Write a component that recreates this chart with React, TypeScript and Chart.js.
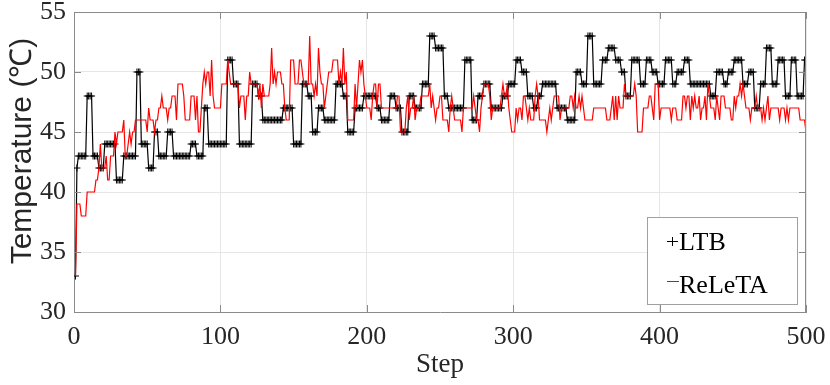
import { useEffect, useRef } from 'react';
import { Chart, registerables } from 'chart.js';

Chart.register(...registerables);

// x categories: simulation steps
const STEPS: number[] = Array.from({ length: 500 }, (_, i) => i + 1);

const X_TICKS = [0, 100, 200, 300, 400, 500];
const Y_TICKS = [30, 35, 40, 45, 50, 55];

const X_TITLE = 'Step';
const Y_TITLE = 'Temperature (℃)';
const SERIES_NAMES = ['LTB', 'ReLeTA'];

// LTB temperatures (step 1..500)
const LTB: number[] = [
  33, 42, 43, 43, 43, 43, 43, 43, 48, 48,
  48, 48, 43, 43, 43, 43, 42, 42, 42, 42,
  44, 44, 44, 44, 44, 44, 44, 44, 41, 41,
  41, 41, 41, 43, 43, 43, 43, 43, 43, 43,
  43, 43, 50, 50, 50, 44, 44, 44, 44, 44,
  42, 42, 42, 42, 45, 45, 45, 43, 43, 43,
  43, 43, 43, 45, 45, 45, 45, 43, 43, 43,
  43, 43, 43, 43, 43, 43, 43, 43, 43, 44,
  44, 44, 44, 43, 43, 43, 43, 43, 47, 47,
  47, 44, 44, 44, 44, 44, 44, 44, 44, 44,
  44, 44, 44, 44, 51, 51, 51, 51, 49, 49,
  49, 49, 44, 44, 44, 44, 44, 44, 44, 44,
  44, 49, 49, 49, 49, 48, 48, 48, 46, 46,
  46, 46, 46, 46, 46, 46, 46, 46, 46, 46,
  46, 46, 47, 47, 47, 47, 47, 47, 47, 44,
  44, 44, 44, 44, 44, 49, 49, 49, 49, 48,
  48, 48, 45, 45, 45, 45, 47, 47, 47, 47,
  46, 46, 46, 46, 46, 46, 46, 46, 49, 49,
  49, 49, 49, 48, 48, 48, 45, 45, 45, 45,
  45, 47, 47, 47, 47, 47, 47, 48, 48, 48,
  48, 48, 48, 48, 48, 48, 47, 47, 47, 46,
  46, 46, 46, 46, 46, 48, 48, 48, 48, 47,
  47, 47, 47, 45, 45, 45, 45, 45, 48, 48,
  48, 48, 47, 47, 47, 47, 47, 49, 49, 49,
  49, 49, 53, 53, 53, 53, 52, 52, 52, 52,
  52, 52, 48, 48, 48, 47, 47, 47, 47, 47,
  47, 47, 47, 47, 47, 47, 51, 51, 51, 51,
  51, 46, 46, 46, 46, 48, 48, 48, 48, 49,
  49, 49, 49, 49, 47, 47, 47, 47, 47, 47,
  47, 47, 48, 48, 48, 48, 49, 49, 49, 49,
  49, 51, 51, 51, 51, 50, 50, 50, 50, 48,
  48, 48, 48, 47, 47, 47, 48, 48, 48, 49,
  49, 49, 49, 49, 49, 49, 49, 49, 49, 47,
  47, 47, 47, 47, 47, 47, 46, 46, 46, 46,
  46, 46, 50, 50, 50, 50, 49, 49, 49, 49,
  53, 53, 53, 53, 49, 49, 49, 49, 49, 49,
  51, 51, 51, 51, 52, 52, 52, 52, 52, 51,
  51, 51, 51, 50, 50, 50, 48, 48, 48, 48,
  51, 51, 51, 51, 51, 51, 49, 49, 49, 49,
  51, 51, 51, 51, 50, 50, 50, 50, 49, 49,
  49, 49, 49, 51, 51, 51, 51, 51, 49, 49,
  49, 50, 50, 50, 50, 50, 51, 51, 51, 51,
  49, 49, 49, 49, 49, 49, 49, 49, 49, 49,
  49, 49, 49, 49, 48, 48, 48, 48, 50, 50,
  50, 50, 50, 49, 49, 49, 50, 50, 50, 50,
  51, 51, 51, 51, 51, 51, 49, 49, 49, 49,
  50, 50, 50, 50, 47, 47, 47, 47, 49, 49,
  49, 49, 52, 52, 52, 52, 49, 49, 49, 49,
  51, 51, 51, 51, 51, 48, 48, 48, 48, 51,
  51, 51, 51, 48, 48, 48, 48, 48, 51, 51,
];

// ReLeTA temperatures (step 1..500)
const RELETA: number[] = [
  33, 39, 39, 39, 38, 38, 38, 38, 40, 40,
  40, 40, 40, 40, 41, 41, 42, 44, 42, 42,
  42, 43, 41, 41, 43, 43, 43, 45, 44, 45,
  45, 45, 45, 46, 43, 43, 44, 45, 44, 45,
  45, 46, 46, 46, 46, 46, 46, 46, 46, 45,
  47, 46, 46, 46, 45, 46, 46, 47, 47, 48,
  47, 47, 47, 46, 47, 47, 48, 48, 48, 46,
  49, 49, 49, 49, 48, 46, 46, 46, 46, 48,
  48, 48, 46, 48, 45, 45, 47, 49, 50, 49,
  50, 50, 48, 51, 48, 47, 47, 47, 47, 47,
  49, 49, 49, 49, 51, 50, 49, 49, 49, 49,
  49, 49, 47, 48, 48, 48, 46, 48, 48, 50,
  49, 49, 49, 49, 49, 48, 49, 47, 49, 48,
  48, 48, 48, 49, 52, 49, 50, 49, 50, 50,
  50, 49, 49, 47, 46, 46, 46, 51, 51, 51,
  49, 49, 49, 51, 51, 50, 49, 49, 49, 49,
  53, 49, 49, 48, 49, 48, 52, 50, 49, 49,
  47, 48, 49, 50, 50, 50, 51, 51, 51, 51,
  49, 50, 49, 52, 49, 50, 46, 46, 46, 46,
  46, 49, 47, 49, 51, 50, 51, 49, 48, 47,
  47, 47, 46, 48, 49, 49, 47, 49, 49, 47,
  47, 47, 47, 47, 47, 47, 47, 47, 47, 47,
  48, 48, 45, 45, 45, 45, 47, 48, 46, 47,
  47, 48, 46, 47, 47, 47, 48, 48, 48, 48,
  48, 48, 49, 47, 48, 47, 46, 47, 47, 48,
  48, 46, 46, 46, 46, 45, 47, 48, 47, 46,
  46, 46, 46, 46, 45, 47, 47, 47, 47, 47,
  47, 47, 48, 47, 46, 46, 45, 47, 48, 49,
  49, 49, 49, 48, 46, 47, 47, 47, 47, 47,
  47, 48, 49, 48, 48, 49, 47, 46, 45, 45,
  45, 47, 46, 47, 47, 46, 48, 48, 47, 46,
  47, 46, 46, 46, 48, 49, 48, 46, 46, 46,
  46, 46, 45, 46, 47, 46, 47, 48, 48, 48,
  48, 46, 47, 47, 47, 47, 47, 47, 48, 48,
  47, 48, 47, 47, 48, 47, 48, 47, 46, 46,
  46, 46, 46, 46, 47, 47, 47, 47, 47, 47,
  47, 47, 47, 46, 46, 46, 47, 48, 46, 48,
  46, 48, 47, 47, 47, 49, 48, 48, 48, 48,
  48, 48, 49, 48, 45, 45, 45, 45, 47, 47,
  47, 47, 48, 48, 47, 46, 49, 49, 49, 46,
  47, 47, 47, 47, 47, 47, 47, 46, 47, 47,
  47, 46, 46, 46, 46, 48, 48, 47, 48, 48,
  46, 48, 47, 48, 47, 47, 48, 46, 47, 47,
  48, 46, 49, 48, 47, 47, 47, 46, 48, 47,
  46, 48, 48, 48, 47, 47, 47, 47, 46, 46,
  48, 47, 48, 48, 49, 48, 49, 48, 47, 47,
  47, 46, 47, 47, 47, 48, 47, 47, 47, 46,
  47, 46, 47, 48, 46, 47, 47, 47, 47, 47,
  47, 46, 47, 47, 47, 46, 47, 46, 47, 47,
  47, 47, 47, 47, 47, 46, 46, 46, 46, 45,
];

const AXIS_COLOR = '#8a8a8a';
const GRID_COLOR = '#e6e6e6';
const TEXT_COLOR = '#262626';
const SERIF = "'Liberation Serif', 'Times New Roman', serif";
const SANS = "'Liberation Sans', Arial, sans-serif";

Chart.defaults.font.family = SERIF;

const framePlugin = {
  id: 'matlabFrame',
  afterDraw(chart: any) {
    const { ctx, chartArea: a, scales } = chart;
    ctx.save();
    // box
    ctx.strokeStyle = AXIS_COLOR;
    ctx.lineWidth = 1;
    ctx.beginPath();
    ctx.moveTo(a.left, a.top + 0.5);
    ctx.lineTo(a.right, a.top + 0.5);
    ctx.moveTo(a.right - 0.5, a.top);
    ctx.lineTo(a.right - 0.5, a.bottom);
    ctx.stroke();
    // inward ticks
    const tl = 7;
    ctx.beginPath();
    for (const v of X_TICKS) {
      const px = Math.round(scales.x.getPixelForValue(v)) + 0.5;
      ctx.moveTo(px, a.bottom);
      ctx.lineTo(px, a.bottom - tl);
      ctx.moveTo(px, a.top);
      ctx.lineTo(px, a.top + tl);
    }
    for (const v of Y_TICKS) {
      const py = Math.round(scales.y.getPixelForValue(v)) + 0.5;
      ctx.moveTo(a.left, py);
      ctx.lineTo(a.left + tl, py);
      ctx.moveTo(a.right, py);
      ctx.lineTo(a.right - tl, py);
    }
    ctx.stroke();

    // axis titles
    ctx.fillStyle = TEXT_COLOR;
    ctx.font = `27px ${SERIF}`;
    ctx.textAlign = 'center';
    ctx.textBaseline = 'alphabetic';
    ctx.fillText(X_TITLE, (a.left + a.right) / 2, 372);

    ctx.save();
    ctx.translate(31, 151);
    ctx.rotate(-Math.PI / 2);
    ctx.font = `30px ${SANS}`;
    ctx.fillText(Y_TITLE, 0, 0);
    ctx.restore();

    // legend
    const ds = chart.data.datasets;
    const bx = 647, by = 217, bw = 150, bh = 87;
    ctx.fillStyle = '#ffffff';
    ctx.fillRect(bx, by, bw, bh);
    ctx.strokeStyle = '#a0a0a0';
    ctx.lineWidth = 1;
    ctx.strokeRect(bx + 0.5, by + 0.5, bw, bh);

    ctx.font = `26px ${SERIF}`;
    ctx.textAlign = 'left';
    ctx.fillStyle = '#000000';
    // entry 1: cross marker
    ctx.strokeStyle = ds[0].borderColor;
    ctx.beginPath();
    ctx.moveTo(667, 241.5);
    ctx.lineTo(678, 241.5);
    ctx.moveTo(672.5, 237);
    ctx.lineTo(672.5, 246);
    ctx.stroke();
    ctx.fillText(ds[0].label, 679, 249.5);
    // entry 2: short line
    ctx.strokeStyle = ds[1].borderColor;
    ctx.beginPath();
    ctx.moveTo(667, 281.5);
    ctx.lineTo(679, 281.5);
    ctx.stroke();
    ctx.fillText(ds[1].label, 679, 292.5);
    ctx.restore();
  },
};

export default function App() {
  const ref = useRef<HTMLCanvasElement | null>(null);

  useEffect(() => {
    if (!ref.current) return;
    const ltbPts = STEPS.map((s, i) => ({ x: s, y: LTB[i] }));
    const relPts = STEPS.map((s, i) => ({ x: s, y: RELETA[i] }));
    const chart = new Chart(ref.current, {
      type: 'line',
      data: {
        datasets: [
          {
            label: SERIES_NAMES[0],
            data: ltbPts,
            borderColor: '#000000',
            backgroundColor: '#000000',
            borderWidth: 1.2,
            pointStyle: 'cross',
            pointRadius: 3.5,
            pointBorderWidth: 1,
            pointBorderColor: '#000000',
            fill: false,
            tension: 0,
            order: 2,
          },
          {
            label: SERIES_NAMES[1],
            data: relPts,
            borderColor: '#ff0000',
            backgroundColor: '#ff0000',
            borderWidth: 1.2,
            pointRadius: 0,
            fill: false,
            tension: 0,
            order: 1,
          },
        ],
      },
      options: {
        animation: false,
        responsive: false,
        devicePixelRatio: 1,
        layout: { padding: { top: 12, right: 24, left: 0, bottom: 0 } },
        plugins: { legend: { display: false }, tooltip: { enabled: false } },
        scales: {
          x: {
            type: 'linear',
            min: 0,
            max: 500,
            afterBuildTicks: (s: any) => {
              s.ticks = X_TICKS.map((v) => ({ value: v }));
            },
            afterFit: (s: any) => {
              s.height = 73;
              s.paddingLeft = 0;
              s.paddingRight = 0;
            },
            ticks: {
              font: { family: SERIF, size: 26 },
              color: TEXT_COLOR,
              padding: 10,
              maxRotation: 0,
              autoSkip: false,
            },
            grid: { color: GRID_COLOR, drawTicks: false },
            border: { color: AXIS_COLOR, width: 1 },
          },
          y: {
            type: 'linear',
            min: 30,
            max: 55,
            afterBuildTicks: (s: any) => {
              s.ticks = Y_TICKS.map((v) => ({ value: v }));
            },
            afterFit: (s: any) => {
              s.width = 74;
              s.paddingTop = 0;
              s.paddingBottom = 0;
            },
            ticks: {
              font: { family: SERIF, size: 26 },
              color: TEXT_COLOR,
              padding: 8,
              autoSkip: false,
            },
            grid: { color: GRID_COLOR, drawTicks: false },
            border: { color: AXIS_COLOR, width: 1 },
          },
        },
      },
      plugins: [framePlugin],
    } as any);
    return () => chart.destroy();
  }, []);

  return (
    <div style={{ position: 'absolute', left: 0, top: 0, width: 830, height: 385, background: '#fff' }}>
      <canvas ref={ref} width={830} height={385} />
    </div>
  );
}
